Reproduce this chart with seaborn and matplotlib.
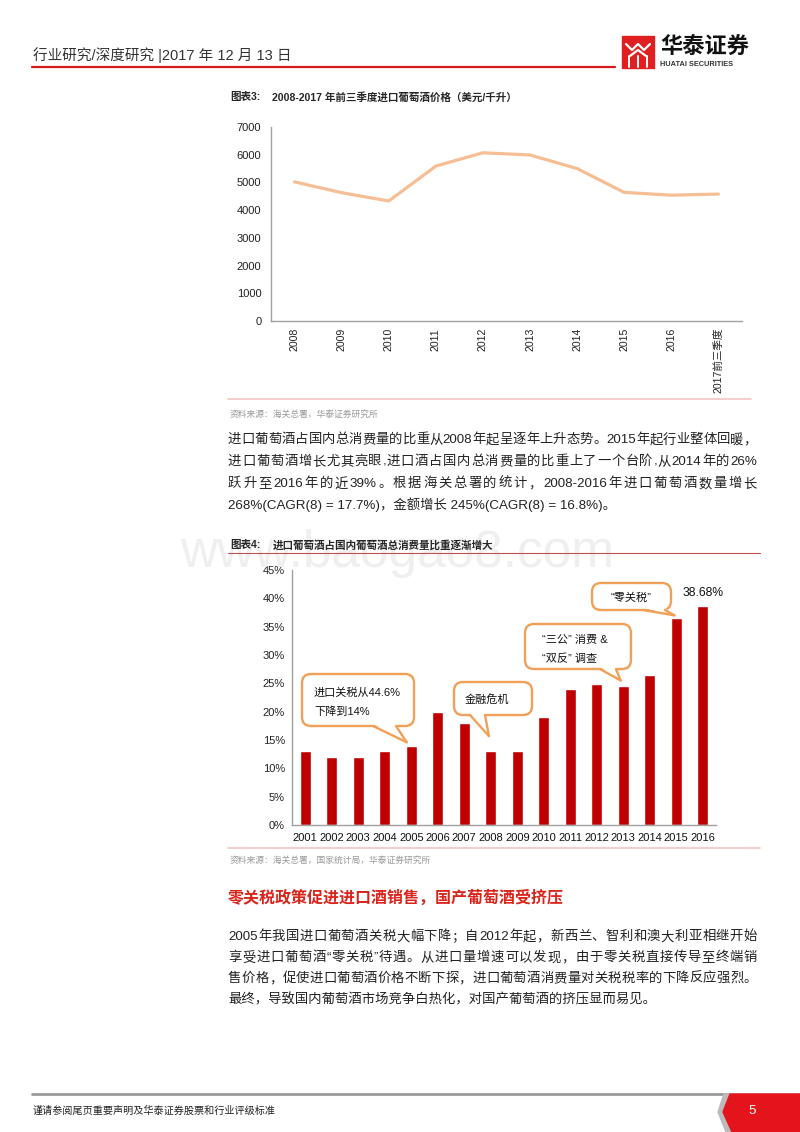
import re
import numpy as np
import pandas as pd
import seaborn as sns
import matplotlib.pyplot as plt
from matplotlib.patches import FancyBboxPatch, Polygon, Rectangle

# ---- data -------------------------------------------------------------
price_years = ["2008", "2009", "2010", "2011", "2012", "2013", "2014",
               "2015", "2016", "2017前三季度"]
price_values = [5020, 4630, 4330, 5590, 6070, 5990, 5500, 4640, 4540, 4580]

share_years = [str(y) for y in range(2001, 2017)]
share_values = [13.0, 12.0, 12.0, 13.0, 14.0, 20.0, 18.0, 13.0, 13.0,
                19.1, 24.0, 24.9, 24.6, 26.5, 36.6, 38.68]
share_label = "38.68%"

callout_texts = [["进口关税从44.6%", "下降到14%"], ["金融危机"],
                 ["“三公” 消费 &", "“双反” 调查"], ["“零关税”"]]

title3 = "2008-2017 年前三季度进口葡萄酒价格（美元/千升）"
title4 = "进口葡萄酒占国内葡萄酒总消费量比重逐渐增大"
source3 = "资料来源：海关总署，华泰证券研究所"
source4 = "资料来源：海关总署，国家统计局，华泰证券研究所"
para1 = ["进口葡萄酒占国内总消费量的比重从2008年起呈逐年上升态势。2015年起行业整体回暖，",
         "进口葡萄酒增长尤其亮眼,进口酒占国内总消费量的比重上了一个台阶,从2014年的26%",
         "跃升至 2016 年的近 39%。根据海关总署的统计，2008-2016 年进口葡萄酒数量增长",
         "268%(CAGR(8) = 17.7%)，金额增长 245%(CAGR(8) = 16.8%)。"]
heading = "零关税政策促进进口酒销售，国产葡萄酒受挤压"
para2 = ["2005 年我国进口葡萄酒关税大幅下降；自 2012 年起，新西兰、智利和澳大利亚相继开始",
         "享受进口葡萄酒“零关税”待遇。从进口量增速可以发现，由于零关税直接传导至终端销",
         "售价格，促使进口葡萄酒价格不断下探，进口葡萄酒消费量对关税税率的下降反应强烈。",
         "最终，导致国内葡萄酒市场竞争白热化，对国产葡萄酒的挤压显而易见。"]

# ---- style ------------------------------------------------------------
sns.set_style("white")
plt.rcParams["font.family"] = ["Liberation Sans", "Noto Sans CJK SC", "DejaVu Sans"]

W, H = 800, 1132
LINE = "#F5BE95"
BAR = "#C00000"
ORANGE = "#F2A057"
AXIS = "#A0A0A0"

fig = plt.figure(figsize=(W / 100, H / 100), dpi=100)
fig.patch.set_facecolor("white")


def px_axes(l, t, r, b, **kw):
    return fig.add_axes([l / W, 1 - b / H, (r - l) / W, (b - t) / H], **kw)


# ---- chart 3: price line ----------------------------------------------
ax1 = px_axes(271, 127, 742, 321)
x_idx = np.arange(len(price_years))
sns.lineplot(x=x_idx, y=price_values, ax=ax1, color=LINE, linewidth=2.3)
ax1.set_xlim(-0.5, len(price_years) - 0.5)
ax1.set_ylim(0, 7000)
ax1.set_yticks(range(0, 7001, 1000))
ax1.set_xticks(x_idx)
ax1.set_xticklabels(price_years, rotation=90, va="top", ha="center")
ax1.set_xticks(np.arange(-0.5, len(price_years)), minor=True)
ax1.tick_params(axis="x", which="major", length=0, pad=5, labelsize=7.6, labelcolor="#222222")
ax1.tick_params(axis="x", which="minor", length=3, direction="in", color=AXIS)
ax1.tick_params(axis="y", length=3, direction="in", color=AXIS, pad=7,
                labelsize=8, labelcolor="#222222")
for s in ["top", "right"]:
    ax1.spines[s].set_visible(False)
for s in ["left", "bottom"]:
    ax1.spines[s].set_color(AXIS)
    ax1.spines[s].set_linewidth(1)
ax1.set_xlabel("")
ax1.set_ylabel("")
ax1.patch.set_alpha(0)

# ---- chart 4: share bars ----------------------------------------------
ax2 = px_axes(292, 570, 716, 825)
df = pd.DataFrame({"year": share_years, "share": share_values})
sns.barplot(data=df, x="year", y="share", ax=ax2, color=BAR, saturation=1, width=0.42)
ax2.set_xlim(-0.5, len(share_years) - 0.5)
ax2.set_ylim(0, 45)
ax2.set_yticks(range(0, 46, 5))
ax2.set_yticklabels([f"{v}%" for v in range(0, 46, 5)])
ax2.set_xticks(np.arange(-0.5, len(share_years)), minor=True)
ax2.tick_params(axis="x", which="major", length=0, pad=6, labelsize=8, labelcolor="#111111")
ax2.tick_params(axis="x", which="minor", length=3, direction="out", color=AXIS)
ax2.tick_params(axis="y", length=3, direction="in", color=AXIS, pad=5,
                labelsize=8, labelcolor="#222222")
for s in ["top", "right"]:
    ax2.spines[s].set_visible(False)
for s in ["left", "bottom"]:
    ax2.spines[s].set_color(AXIS)
    ax2.spines[s].set_linewidth(1)
ax2.set_xlabel("")
ax2.set_ylabel("")
ax2.patch.set_alpha(0)
ax2.annotate(share_label, (len(share_values) - 1, share_values[-1]), xytext=(0, 5),
             textcoords="offset points", ha="center", va="bottom", fontsize=8.7, color="#111111")

# ---- page overlay (1 unit = 1 pixel) -----------------------------------
ov = fig.add_axes([0, 0, 1, 1], zorder=10)
ov.set_xlim(0, W)
ov.set_ylim(H, 0)
ov.axis("off")
ov.patch.set_alpha(0)
renderer = fig.canvas.get_renderer()

# watermark
ov.text(397, 553, "www.baogao8.com", fontsize=37, color="#efefef", ha="center",
        va="center", zorder=0)

# header
ov.text(33, 55, "行业研究/深度研究 |2017 年 12 月 13 日", fontsize=10.5, color="#333333",
        va="center", ha="left")
ov.plot([32, 615], [67, 67], color="#D7191C", lw=1.6)
ov.add_patch(Rectangle((622, 36), 32, 32, color="#E02020", zorder=3))
for xs, ys in [([626, 632, 638], [44, 50, 44]), ([638, 644, 650], [44, 50, 44]),
               ([630, 638, 646], [56, 50, 56])]:
    ov.plot(xs, ys, color="white", lw=1.6, zorder=4)
for xx in [629, 638, 647]:
    ov.plot([xx, xx], [56, 67], color="white", lw=1.4, zorder=4)
ov.text(660, 48, "华泰证券", fontsize=16, fontweight="bold", color="#111111",
        va="center", ha="left")
ov.text(660, 65, "HUATAI SECURITIES", fontsize=5.3, fontweight="bold", color="#333333",
        va="center", ha="left")

# chart titles, sources
ov.text(230, 97, "图表3:", fontsize=7.6, fontweight="bold", va="center", ha="left")
ov.text(272, 97, title3, fontsize=7.6, fontweight="bold", va="center", ha="left")
ov.plot([228, 751], [399, 399], color="#F2C4C4", lw=1.2)
ov.text(230, 414, source3, fontsize=6.3, color="#999999", va="center", ha="left")

ov.text(230, 545, "图表4:", fontsize=7.6, fontweight="bold", va="center", ha="left")
ov.text(273, 545, title4, fontsize=7.6, fontweight="bold", va="center", ha="left")
ov.plot([228, 760], [553, 553], color="#C0504D", lw=0.8)
ov.plot([228, 760], [848, 848], color="#F2C4C4", lw=1.2)
ov.text(230, 860, source4, fontsize=6.3, color="#999999", va="center", ha="left")


def justify(y, line, size=9.6, color="#222222", x0=228, x1=757, last=False, **kw):
    if last:
        ov.text(x0, y, line, fontsize=size, color=color, va="center", ha="left", **kw)
        return
    tokens = re.findall(r"[\x21-\x7e]+|\S", line)
    texts = [ov.text(0, y, t, fontsize=size, color=color, va="center", ha="left", **kw)
             for t in tokens]
    widths = [t.get_window_extent(renderer).width for t in texts]
    gap = (x1 - x0 - sum(widths)) / (len(tokens) - 1)
    x = x0
    for t, w in zip(texts, widths):
        t.set_x(x)
        x += w + gap


for i, (y, line) in enumerate(zip([440, 462, 484, 505], para1)):
    justify(y, line, last=(i == len(para1) - 1))
ov.text(228, 898, heading, fontsize=11.5, fontweight="bold", color="#D9241B",
        va="center", ha="left")
for i, (y, line) in enumerate(zip([937, 958, 979, 1000], para2)):
    justify(y, line, last=(i == len(para2) - 1))

# footer
ov.plot([32, 728], [1094, 1094], color="#9A9A9A", lw=2)
ov.add_patch(Polygon([(724, 1094), (800, 1094), (800, 1132), (726, 1132), (718, 1112)],
                     closed=True, color="#BBBBBB", zorder=2))
ov.add_patch(Polygon([(730, 1094), (800, 1094), (800, 1132), (732, 1132), (723, 1112)],
                     closed=True, color="#E3141B", zorder=3))
ov.text(752, 1111, "5", fontsize=9.5, color="white", va="center", ha="center", zorder=4)
ov.text(33, 1111, "谨请参阅尾页重要声明及华泰证券股票和行业评级标准", fontsize=7.3,
        color="#222222", va="center", ha="left")


# ---- callouts ---------------------------------------------------------
def to_px(ax, x, y):
    dx, dy = ax.transData.transform((x, y))
    return dx, H - dy


def callout(box, base, tip, lines, text_xy, ha="left", size=8):
    x0, y0, x1, y1 = box
    ov.add_patch(FancyBboxPatch((x0, y0), x1 - x0, y1 - y0,
                                boxstyle="round,pad=0,rounding_size=9",
                                fc="white", ec=ORANGE, lw=1.7, zorder=5))
    ov.add_patch(Polygon([(base[0], y1 - 2), tip, (base[1], y1 - 2)], closed=True,
                         fc="white", ec="none", zorder=6))
    for bx in base:
        ov.plot([bx, tip[0]], [y1, tip[1]], color=ORANGE, lw=1.7, zorder=7,
                solid_capstyle="round")
    tx, ty = text_xy
    for k, ln in enumerate(lines):
        ov.text(tx, ty + k * 19, ln, fontsize=size, color="#111111", ha=ha,
                va="center", zorder=8)


tip1 = to_px(ax2, 4 - 0.17, share_values[4] + 0.6)
tip2 = to_px(ax2, 7 - 0.07, share_values[7] + 2.7)
tip3 = to_px(ax2, 12 - 0.1, share_values[12] + 0.9)
tip4 = to_px(ax2, 14 - 0.07, share_values[14] + 0.4)
callout((302, 674, 414, 726), (373, 396), tip1, callout_texts[0], (314, 693))
callout((454, 682, 532, 715), (470, 485), tip2, callout_texts[1], (465, 699))
callout((525, 624, 631, 669), (600, 616), tip3, callout_texts[2], (542, 640))
callout((592, 583, 671, 610), (643, 665), tip4, callout_texts[3], (631, 598), ha="center")

fig.savefig("out.png", dpi=100)
